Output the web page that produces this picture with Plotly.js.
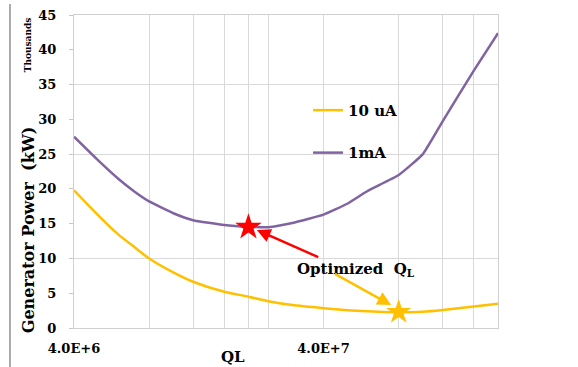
<!DOCTYPE html>
<html><head><meta charset="utf-8">
<script src="https://cdn.plot.ly/plotly-3.0.1.min.js"></script>
<style>html,body{margin:0;padding:0;background:#fff}#chart{width:578px;height:367px}</style>
</head><body><div id="chart"></div>
<script>
// Data
const qL = [4e6, 5e6, 6e6, 7e6, 8e6, 1e7, 1.2e7, 1.6e7, 2e7, 2.4e7, 3e7, 4e7, 5e7, 6e7, 8e7, 1e8, 1.2e8, 1.6e8, 2e8];
const power1mA = [27.5, 24.1, 21.5, 19.6, 18.2, 16.5, 15.5, 14.8, 14.55, 14.5, 15.1, 16.3, 17.9, 19.7, 22.0, 25.0, 29.7, 37.0, 42.4];
const power10uA = [19.8, 16.2, 13.5, 11.6, 10.0, 8.0, 6.65, 5.2, 4.5, 3.85, 3.3, 2.85, 2.55, 2.4, 2.25, 2.35, 2.6, 3.1, 3.5];
const seriesNames = ['10 uA', '1mA'];
const optimumRed = {x: 2e7, y: 14.5};
const optimumGold = {x: 8e7, y: 2.3};
const xGridVals = [4e6, 8e6, 1.2e7, 1.6e7, 2e7, 2.4e7, 4e7, 8e7, 1.2e8, 1.6e8, 2e8];
const xTickText = ['4.0E+6', '', '', '', '', '', '4.0E+7', '', '', '', ''];
const yTickVals = [0, 5, 10, 15, 20, 25, 30, 35, 40, 45];
const yGridVals = [10, 25, 35];
// annotation arrow endpoints (QL, power)
const redArrowTail = [3.86e7, 10.1];
const redArrowHead = [2.16e7, 14.1];
const goldArrowTail = [4.38e7, 7.9];
const goldArrowHead = [7.46e7, 3.3];
const labelPos = [5.4e7, 8.4];

const GOLD = '#FFC000', PURPLE = '#8064A2', RED = '#FF0000';
const serif = 'DejaVu Serif, Liberation Serif, serif';
function bf(size) { return {family: serif, size: size, color: '#000', weight: 'bold'}; }

const traces = [
  {x: qL, y: power10uA, name: seriesNames[0], mode: 'lines', line: {color: GOLD, width: 2.5, shape: 'spline', smoothing: 0.6}, legendgroup: 'a'},
  {x: qL, y: power1mA, name: seriesNames[1], mode: 'lines', line: {color: PURPLE, width: 2.5, shape: 'spline', smoothing: 0.4}, legendgroup: 'b'},
  {x: [optimumRed.x], y: [optimumRed.y], mode: 'markers', showlegend: false,
   marker: {symbol: 'star', size: 20, color: RED, line: {width: 0}}},
  {x: [optimumGold.x], y: [optimumGold.y], mode: 'markers', showlegend: false,
   marker: {symbol: 'star', size: 19, color: GOLD, line: {width: 0}}}
];

const lg = Math.log10;
const layout = {
  width: 578, height: 367,
  margin: {l: 74, r: 80, t: 15, b: 39},
  paper_bgcolor: '#fff', plot_bgcolor: '#fff',
  showlegend: true,
  legend: {x: 0.552, y: 0.748, xanchor: 'left', yanchor: 'top', bgcolor: 'rgba(0,0,0,0)',
           font: bf(15), traceorder: 'grouped', tracegroupgap: 20},
  xaxis: {type: 'log', range: [lg(4e6), lg(2e8)], tickmode: 'array', tickvals: xGridVals, ticktext: xTickText,
          showgrid: true, gridcolor: '#d9d9d9', gridwidth: 1, showline: true, linecolor: '#d0d0d0', mirror: true,
          ticks: '', tickfont: bf(13), ticklabelstandoff: 8, zeroline: false},
  yaxis: {range: [0, 45], tickmode: 'array', tickvals: yTickVals, showgrid: false,
          minor: {tickmode: 'array', tickvals: yGridVals, showgrid: true, gridcolor: '#d9d9d9', ticks: ''},
          showline: true, linecolor: '#d0d0d0', mirror: true, ticks: 'outside', ticklen: 4, tickcolor: '#c8c8c8',
          tickfont: bf(13), ticklabelstandoff: 10, zeroline: false},
  annotations: [
    {xref: 'paper', yref: 'paper', x: -0.108, y: 0.313, xanchor: 'center', yanchor: 'middle',
     text: 'Generator Power  (kW)', textangle: -90, showarrow: false, font: bf(16)},
    {xref: 'paper', yref: 'paper', x: -0.108, y: 0.904, xanchor: 'center', yanchor: 'middle',
     text: 'Thousands', textangle: -90, showarrow: false, font: bf(9)},
    {xref: 'paper', yref: 'paper', x: 0.375, y: -0.092, xanchor: 'center', yanchor: 'middle', text: 'QL',
     showarrow: false, font: bf(15)},
    {x: lg(labelPos[0]), y: labelPos[1], text: 'Optimized  Q<sub>L</sub>', showarrow: false, font: bf(15)},
    {x: lg(redArrowHead[0]), y: redArrowHead[1], ax: lg(redArrowTail[0]), ay: redArrowTail[1],
     axref: 'x', ayref: 'y', text: '', showarrow: true, arrowhead: 2, arrowsize: 1.1, arrowwidth: 2.5, arrowcolor: RED},
    {x: lg(goldArrowHead[0]), y: goldArrowHead[1], ax: lg(goldArrowTail[0]), ay: goldArrowTail[1],
     axref: 'x', ayref: 'y', text: '', showarrow: true, arrowhead: 2, arrowsize: 1.1, arrowwidth: 2.5, arrowcolor: GOLD}
  ],
  shapes: [
    {type: 'line', xref: 'paper', yref: 'paper', x0: -0.151, x1: -0.151, y0: 1.035, y1: -0.13,
     line: {color: '#909090', width: 1.5}}
  ]
};

Plotly.newPlot('chart', traces, layout, {staticPlot: true, displayModeBar: false});
</script></body></html>
